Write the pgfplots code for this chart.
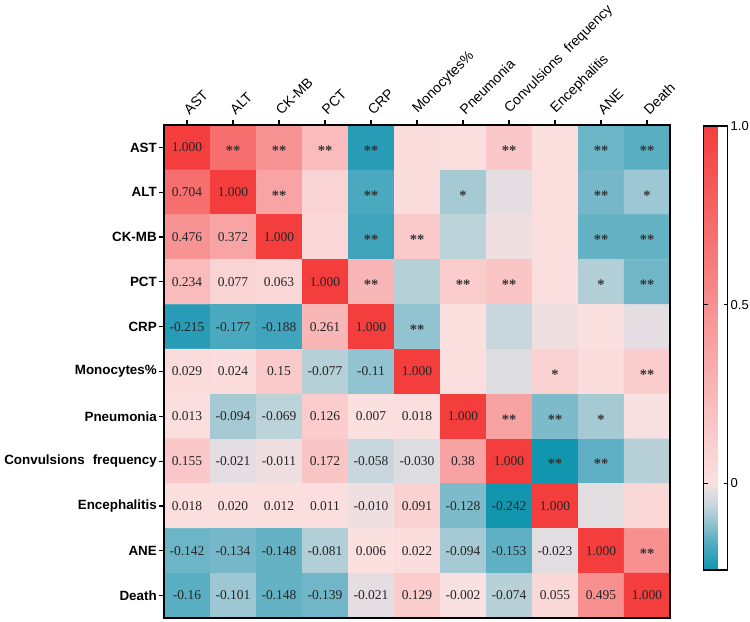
\documentclass[border=0pt]{standalone}
\usepackage{pgfplots}
\pgfplotsset{compat=1.18}
\usepackage{pgfplotstable}
\usepackage{fontspec}
\setmainfont{Liberation Serif}
\newfontfamily\arial{Liberation Sans}

\pgfplotstableread{
x y c
0 0 1
1 0 0.704
2 0 0.476
3 0 0.234
4 0 -0.215
5 0 0.029
6 0 0.013
7 0 0.155
8 0 0.018
9 0 -0.142
10 0 -0.16
0 1 0.704
1 1 1
2 1 0.372
3 1 0.077
4 1 -0.177
5 1 0.024
6 1 -0.094
7 1 -0.021
8 1 0.020
9 1 -0.134
10 1 -0.101
0 2 0.476
1 2 0.372
2 2 1
3 2 0.063
4 2 -0.188
5 2 0.15
6 2 -0.069
7 2 -0.011
8 2 0.012
9 2 -0.148
10 2 -0.148
0 3 0.234
1 3 0.077
2 3 0.063
3 3 1
4 3 0.261
5 3 -0.077
6 3 0.126
7 3 0.172
8 3 0.011
9 3 -0.081
10 3 -0.139
0 4 -0.215
1 4 -0.177
2 4 -0.188
3 4 0.261
4 4 1
5 4 -0.11
6 4 0.007
7 4 -0.058
8 4 -0.010
9 4 0.006
10 4 -0.021
0 5 0.029
1 5 0.024
2 5 0.15
3 5 -0.077
4 5 -0.11
5 5 1
6 5 0.018
7 5 -0.030
8 5 0.091
9 5 0.022
10 5 0.129
0 6 0.013
1 6 -0.094
2 6 -0.069
3 6 0.126
4 6 0.007
5 6 0.018
6 6 1
7 6 0.38
8 6 -0.128
9 6 -0.094
10 6 -0.002
0 7 0.155
1 7 -0.021
2 7 -0.011
3 7 0.172
4 7 -0.058
5 7 -0.030
6 7 0.38
7 7 1
8 7 -0.242
9 7 -0.153
10 7 -0.074
0 8 0.018
1 8 0.020
2 8 0.012
3 8 0.011
4 8 -0.010
5 8 0.091
6 8 -0.128
7 8 -0.242
8 8 1
9 8 -0.023
10 8 0.055
0 9 -0.142
1 9 -0.134
2 9 -0.148
3 9 -0.081
4 9 0.006
5 9 0.022
6 9 -0.094
7 9 -0.153
8 9 -0.023
9 9 1
10 9 0.495
0 10 -0.16
1 10 -0.101
2 10 -0.148
3 10 -0.139
4 10 -0.021
5 10 0.129
6 10 -0.002
7 10 -0.074
8 10 0.055
9 10 0.495
10 10 1
}\corr

\pgfplotstableread{
x y t
0 0 1.000
0 1 0.704
1 1 1.000
0 2 0.476
1 2 0.372
2 2 1.000
0 3 0.234
1 3 0.077
2 3 0.063
3 3 1.000
0 4 -0.215
1 4 -0.177
2 4 -0.188
3 4 0.261
4 4 1.000
0 5 0.029
1 5 0.024
2 5 0.15
3 5 -0.077
4 5 -0.11
5 5 1.000
0 6 0.013
1 6 -0.094
2 6 -0.069
3 6 0.126
4 6 0.007
5 6 0.018
6 6 1.000
0 7 0.155
1 7 -0.021
2 7 -0.011
3 7 0.172
4 7 -0.058
5 7 -0.030
6 7 0.38
7 7 1.000
0 8 0.018
1 8 0.020
2 8 0.012
3 8 0.011
4 8 -0.010
5 8 0.091
6 8 -0.128
7 8 -0.242
8 8 1.000
0 9 -0.142
1 9 -0.134
2 9 -0.148
3 9 -0.081
4 9 0.006
5 9 0.022
6 9 -0.094
7 9 -0.153
8 9 -0.023
9 9 1.000
0 10 -0.16
1 10 -0.101
2 10 -0.148
3 10 -0.139
4 10 -0.021
5 10 0.129
6 10 -0.002
7 10 -0.074
8 10 0.055
9 10 0.495
10 10 1.000
}\vals

\pgfplotstableread{
x y t
1 0 **
2 0 **
3 0 **
4 0 **
7 0 **
9 0 **
10 0 **
2 1 **
4 1 **
6 1 *
9 1 **
10 1 *
4 2 **
5 2 **
9 2 **
10 2 **
4 3 **
6 3 **
7 3 **
9 3 *
10 3 **
5 4 **
8 5 *
10 5 **
7 6 **
8 6 **
9 6 *
8 7 **
9 7 **
10 9 **
}\stars

\begin{document}
\begin{tikzpicture}
\useasboundingbox (0,0) rectangle (750bp,622bp);
\begin{axis}[
  at={(164bp,4bp)}, anchor=south west,
  scale only axis, width=506bp, height=493bp,
  xmin=-0.5, xmax=10.5, ymin=-0.5, ymax=10.5, y dir=reverse,
  enlargelimits=false,
  xtick={0,...,10}, ytick={0,...,10},
  xticklabels={AST,ALT,CK-MB,PCT,CRP,Monocytes\%,Pneumonia,Convulsions\hspace{0.6em}frequency,Encephalitis,ANE,Death},
  yticklabels={AST,ALT,CK-MB,PCT,CRP,Monocytes\%,Pneumonia,Convulsions\hspace{0.6em}frequency,Encephalitis,ANE,Death},
  xtick pos=right, xticklabel pos=right, ytick pos=left,
  tick align=outside, major tick length=5bp,
  tick style={black, line width=1.2bp},
  axis line style={line width=1.8bp},
  xticklabel style={rotate=45, anchor=south west, xshift=4bp, font=\arial\fontsize{14bp}{16bp}\selectfont, inner sep=1bp},
  yticklabel style={font=\arial\bfseries\fontsize{13.4bp}{16bp}\selectfont, inner sep=2bp},
  colormap={corrmap}{rgb255(0)=(18,150,176) rgb255(27)=(40,156,182) rgb255(89)=(95,176,196) rgb255(148)=(165,202,212) rgb255(184)=(200,215,221) rgb255(221)=(228,221,225) rgb255(242)=(251,225,225) rgb255(1242)=(244,62,62)},
  point meta min=-0.242, point meta max=1,
  colorbar,
  colorbar style={
    at={(parent axis.north east)}, anchor=north west, xshift=25bp, yshift=-1bp,
    scale only axis, width=24bp, height=444bp,
    ytick={0,0.5,1}, yticklabels={0,0.5,1.0},
    ytick pos=both, yticklabel pos=right,
    tick align=inside, major tick length=4bp,
    tick style={black, line width=1bp},
    axis line style={line width=1.5bp},
    yticklabel style={font=\arial\fontsize{13bp}{15bp}\selectfont, inner sep=3bp},
  },
  axis on top,
]
\addplot[matrix plot*, mesh/cols=11, point meta=explicit] table[meta=c] {\corr};
\addplot[only marks, mark=none, point meta=explicit symbolic, nodes near coords,
  nodes near coords style={anchor=center, font=\fontsize{13.5bp}{15bp}\selectfont, text=black!85}]
  table[meta=t] {\vals};
\addplot[only marks, mark=none, point meta=explicit symbolic, nodes near coords,
  nodes near coords style={anchor=center, yshift=-3bp, font=\bfseries\fontsize{14.5bp}{15bp}\selectfont, text=black!80}]
  table[meta=t] {\stars};
\end{axis}
\end{tikzpicture}
\end{document}
